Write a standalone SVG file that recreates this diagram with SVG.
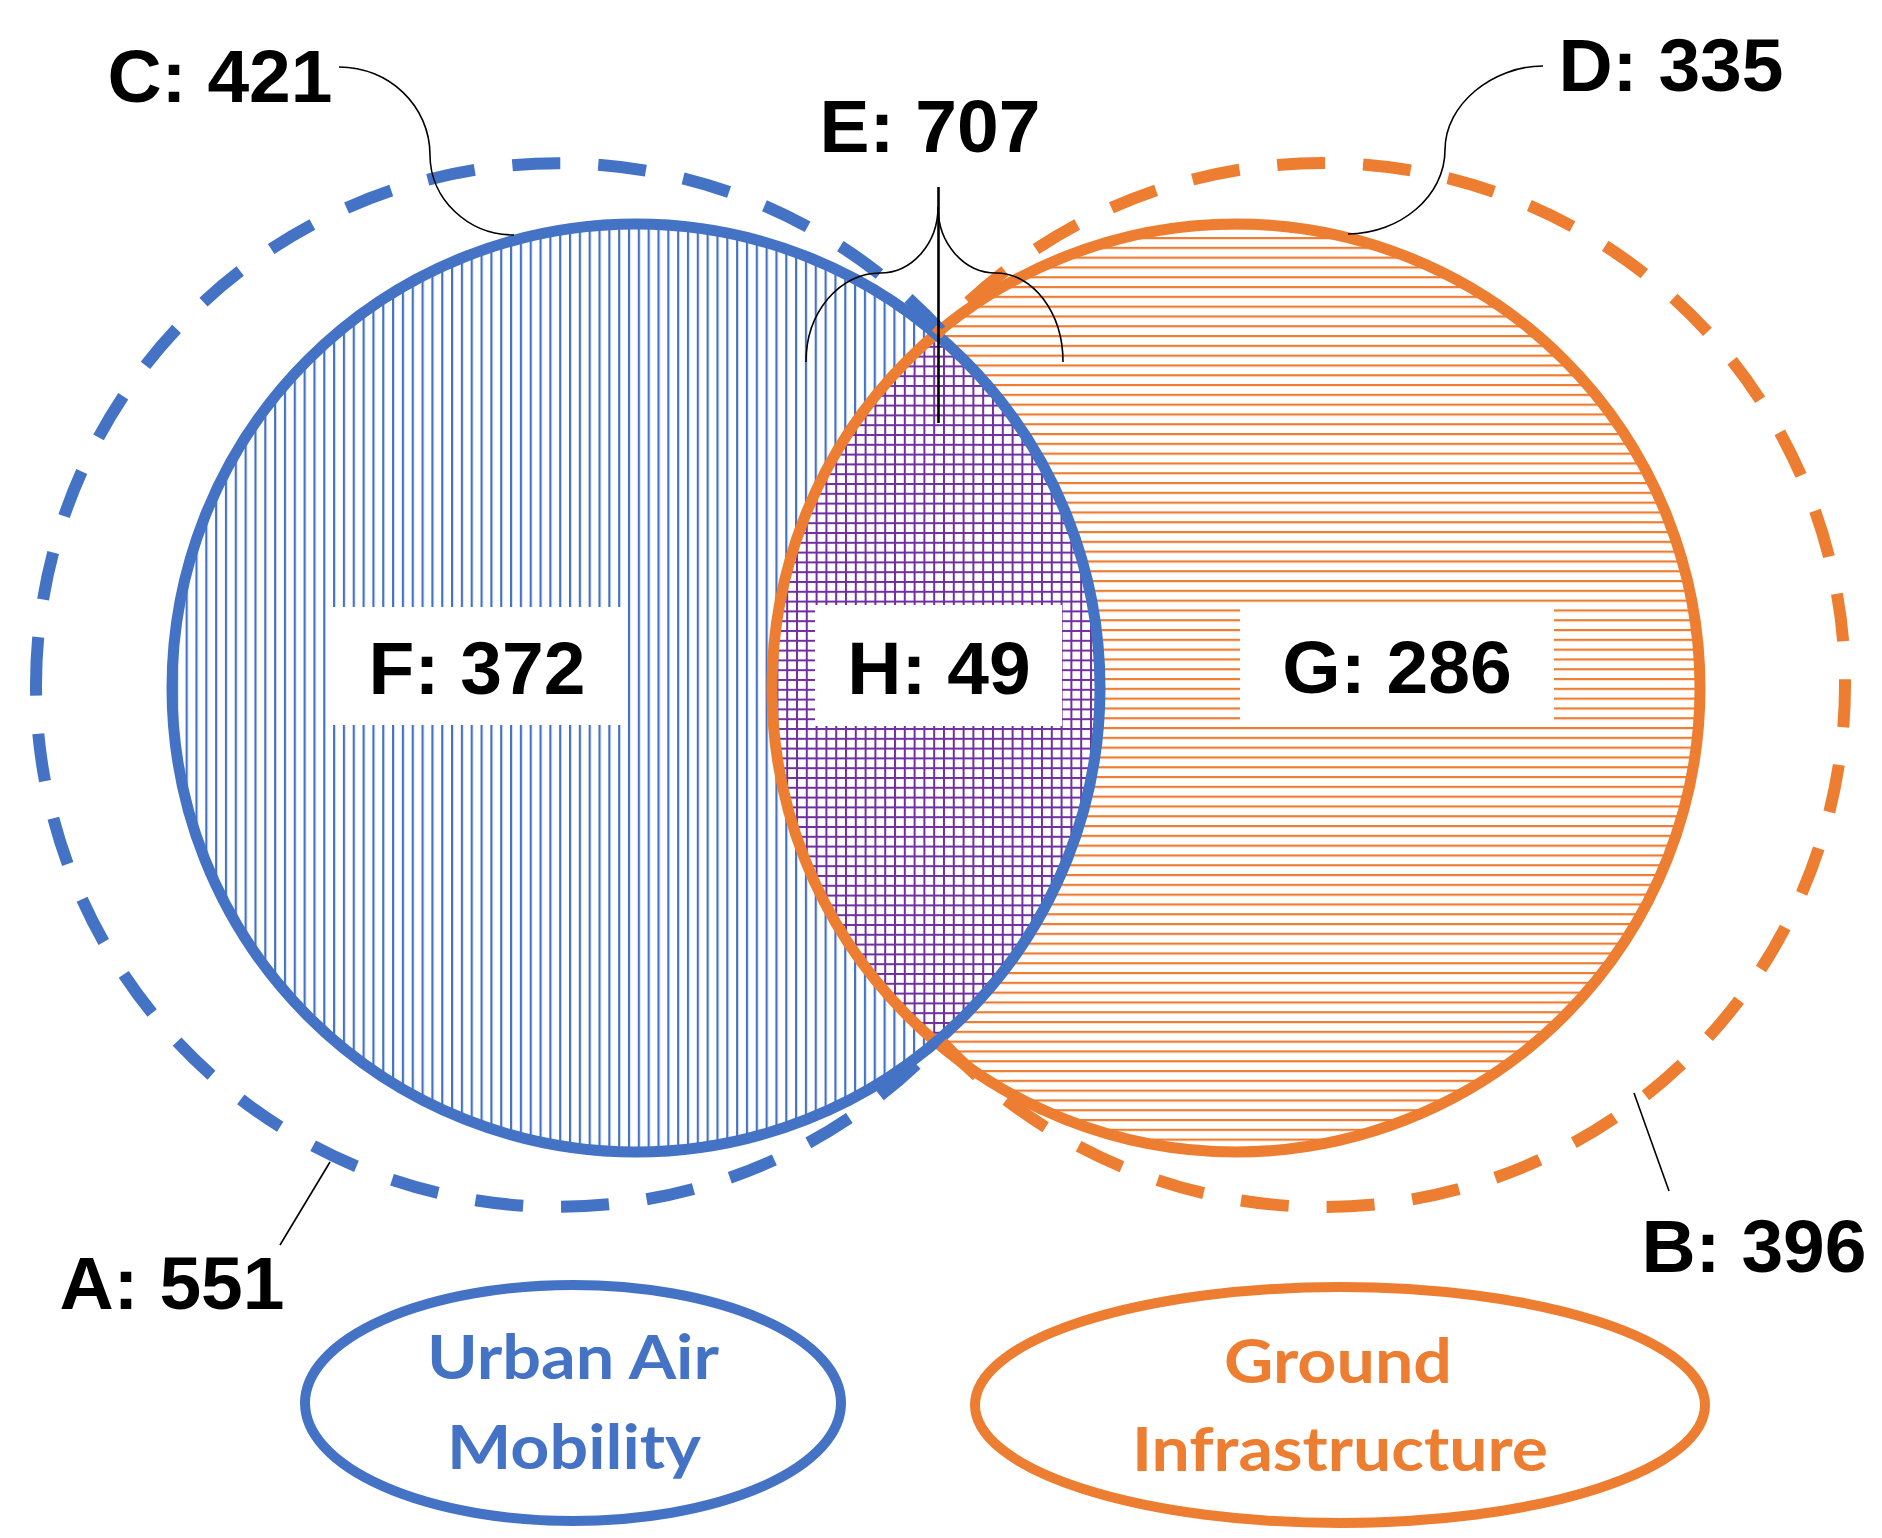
<svg xmlns="http://www.w3.org/2000/svg" width="1882" height="1538" viewBox="0 0 1882 1538">
<defs>
<style>
.lbl{font-family:"Liberation Sans",Arial,sans-serif;font-weight:bold;font-size:75px;fill:#000;text-anchor:middle}
.cat{font-family:Lato,"Liberation Sans",sans-serif;font-weight:bold;font-size:62px;text-anchor:middle}
.box{fill:#fff}
.conn{fill:none;stroke:#000;stroke-width:1.6}
.solid{fill:none;stroke-width:11}
.dash{fill:none;stroke-width:12;stroke-dasharray:48 38}
.blue{stroke:#4472C4}
.orange{stroke:#ED7D31}
</style>
<pattern id="pV" patternUnits="userSpaceOnUse" x="185.6" y="0" width="9.83" height="20"><rect x="0" y="0" width="2.2" height="20" fill="#4472C4"/></pattern>
<pattern id="pH" patternUnits="userSpaceOnUse" x="0" y="501.6" width="20" height="9.8"><rect x="0" y="0" width="20" height="2.2" fill="#ED7D31"/></pattern>
<pattern id="pG" patternUnits="userSpaceOnUse" x="786.2" y="551.6" width="9.8" height="9.8"><rect width="9.8" height="9.8" fill="#fff"/><rect width="2" height="9.8" fill="#7030A0"/><rect width="9.8" height="2" fill="#7030A0"/></pattern>
<clipPath id="inBlue"><circle cx="636" cy="688" r="464"/></clipPath>
<clipPath id="inOrange"><circle cx="1236" cy="688" r="464"/></clipPath>
<clipPath id="outOrange"><path clip-rule="evenodd" d="M0,0H1882V1538H0Z M772,688a464,464 0 1,0 928,0a464,464 0 1,0 -928,0Z"/></clipPath>
<clipPath id="outBlue"><path clip-rule="evenodd" d="M0,0H1882V1538H0Z M172,688a464,464 0 1,0 928,0a464,464 0 1,0 -928,0Z"/></clipPath>
</defs>
<rect width="1882" height="1538" fill="#fff"/>

<g id="region-F">
<circle cx="636" cy="688" r="464" fill="url(#pV)"/>
<rect class="box" x="328" y="607" width="297" height="118"/>
<text class="lbl" x="477" y="694">F: 372</text>
</g>
<g id="region-G">
<circle cx="1236" cy="688" r="464" fill="url(#pH)"/>
<rect class="box" x="1240" y="607" width="314" height="117"/>
<text class="lbl" x="1397" y="693">G: 286</text>
</g>
<g id="region-H">
<g clip-path="url(#inBlue)"><rect x="772" y="224" width="328" height="928" fill="url(#pG)" clip-path="url(#inOrange)"/></g>
<rect class="box" x="815" y="605" width="247" height="121"/>
<text class="lbl" x="939" y="694">H: 49</text>
</g>

<g id="circle-orange-solid"><circle class="solid orange" cx="1236" cy="688" r="464"/></g>
<g id="circle-blue-solid"><circle class="solid blue" cx="636" cy="688" r="464"/></g>
<g id="circle-A-dashed"><path class="dash blue" clip-path="url(#outOrange)" d="M36,685A522,522 0 0 1 1080,685A522,522 0 0 1 36,685"/></g>
<g id="circle-B-dashed"><path class="dash orange" clip-path="url(#outBlue)" d="M801,685A522,522 0 0 1 1845,685A522,522 0 0 1 801,685"/></g>

<g id="connectors">
<path class="conn" d="M339,67C389,67 430,106 430,155C430,199 468,235 514,235"/>
<path class="conn" d="M1543,66C1493,66 1445,104 1445,150C1445,196 1400,234 1348,234"/>
<path class="conn" d="M938,207A58,66 0 0 1 880,273A74,89 0 0 0 806,362"/>
<path class="conn" d="M938,207A58,66 0 0 0 996,273A67,89 0 0 1 1063,362"/>
<path class="conn" style="stroke-width:2.6" d="M938.5,187V423"/>
<path class="conn" d="M280,1245L330,1162"/>
<path class="conn" d="M1634,1093L1669,1191"/>
</g>

<g id="label-A"><text class="lbl" x="172" y="1309">A: 551</text></g>
<g id="label-B"><text class="lbl" x="1754" y="1272">B: 396</text></g>
<g id="label-C"><text class="lbl" x="220" y="102">C: 421</text></g>
<g id="label-D"><text class="lbl" x="1671" y="91">D: 335</text></g>
<g id="label-E"><text class="lbl" x="930" y="152">E: 707</text></g>

<g id="legend-uam">
<ellipse cx="573" cy="1403" rx="268" ry="118" fill="#fff" stroke="#4472C4" stroke-width="10"/>
<text class="cat" fill="#4472C4" x="573" y="1379" textLength="292" lengthAdjust="spacingAndGlyphs">Urban Air</text>
<text class="cat" fill="#4472C4" x="574" y="1469" textLength="254" lengthAdjust="spacingAndGlyphs">Mobility</text>
</g>
<g id="legend-gi">
<ellipse cx="1340" cy="1405" rx="365" ry="118" fill="#fff" stroke="#ED7D31" stroke-width="10"/>
<text class="cat" fill="#ED7D31" x="1338" y="1383" textLength="228" lengthAdjust="spacingAndGlyphs">Ground</text>
<text class="cat" fill="#ED7D31" x="1340" y="1471" textLength="416" lengthAdjust="spacingAndGlyphs">Infrastructure</text>
</g>
</svg>
